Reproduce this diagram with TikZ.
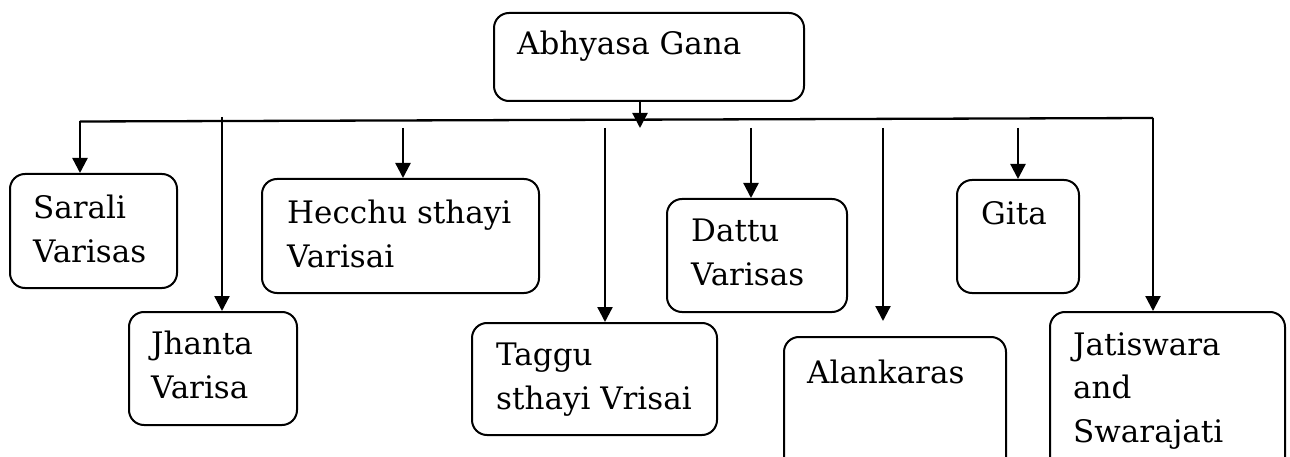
\documentclass[tikz,border=0pt]{standalone}
\usepackage{fontspec}
\setmainfont{DejaVu Serif}
\usetikzlibrary{arrows.meta}
\tikzset{
  box/.style={draw, line width=2pt, rounded corners=15pt, inner sep=0pt, anchor=north west},
  lbl/.style={anchor=base west, inner sep=0pt, align=left, font=\fontsize{31}{43.5}\selectfont},
  arr/.style={line width=2.3pt, -{Triangle[length=15pt,width=15pt]}},
  bus/.style={line width=2.3pt}
}
\begin{document}
\begin{tikzpicture}[x=1pt,y=-1pt]
\useasboundingbox (0,0) rectangle (1290,457);
\clip (0,0) rectangle (1290,457);
% boxes
\node[box, minimum width=310pt, minimum height=88pt] (top) at (493,12) {};
\node[box, minimum width=167pt, minimum height=114pt] (sarali) at (9,173) {};
\node[box, minimum width=168pt, minimum height=113pt] (jhanta) at (128,311) {};
\node[box, minimum width=277pt, minimum height=114pt] (hecchu) at (261,178) {};
\node[box, minimum width=245pt, minimum height=112pt] (taggu) at (471,322) {};
\node[box, minimum width=180pt, minimum height=113pt] (dattu) at (666,198) {};
\node[box, minimum width=222pt, minimum height=140pt] (alank) at (783,336) {};
\node[box, minimum width=122pt, minimum height=113pt] (gita) at (956,179) {};
\node[box, minimum width=235pt, minimum height=160pt] (jati) at (1049,311) {};
% labels (anchored at the baseline of the last line)
\node[lbl] (tTop) at (517,55) {Abhyasa Gana};
\node[lbl] (tSarali) at (33,262) {Sarali\\Varisas};
\node[lbl] (tJhanta) at (151,398) {Jhanta\\Varisa};
\node[lbl] (tHecchu) at (287,267) {Hecchu sthayi\\Varisai};
\node[lbl] (tTaggu) at (496,409) {Taggu\\sthayi Vrisai};
\node[lbl] (tDattu) at (691,285) {Dattu\\Varisas};
\node[lbl] (tAlank) at (807,383) {Alankaras};
\node[lbl] (tGita) at (981,225) {Gita};
\node[lbl] (tJati) at (1073,442) {Jatiswara\\and\\Swarajati};
% connector coordinates
\coordinate (busL) at (80,121.5);
\coordinate (busR) at (1153,118);
\coordinate (tip) at (640,128);
\coordinate (sJ) at (222,117);
\coordinate (sH) at (403,128);
\coordinate (sT) at (605,128);
\coordinate (sD) at (751,128);
\coordinate (sA) at (883,128);
\coordinate (sG) at (1018,128);
% connectors
\draw[bus] (busL) -- (busR);
\draw[arr] (top.south -| tip) -- (tip);
\draw[arr] (busL) -- (busL |- sarali.north);
\draw[arr] (sJ) -- (sJ |- jhanta.north);
\draw[arr] (sH) -- (sH |- hecchu.north);
\draw[arr] (sT) -- (sT |- taggu.north);
\draw[arr] (sD) -- (sD |- dattu.north);
\draw[arr, shorten >=15pt] (sA) -- (sA |- alank.north);
\draw[arr] (sG) -- (sG |- gita.north);
\draw[arr] (busR) -- (busR |- jati.north);
\end{tikzpicture}
\end{document}
